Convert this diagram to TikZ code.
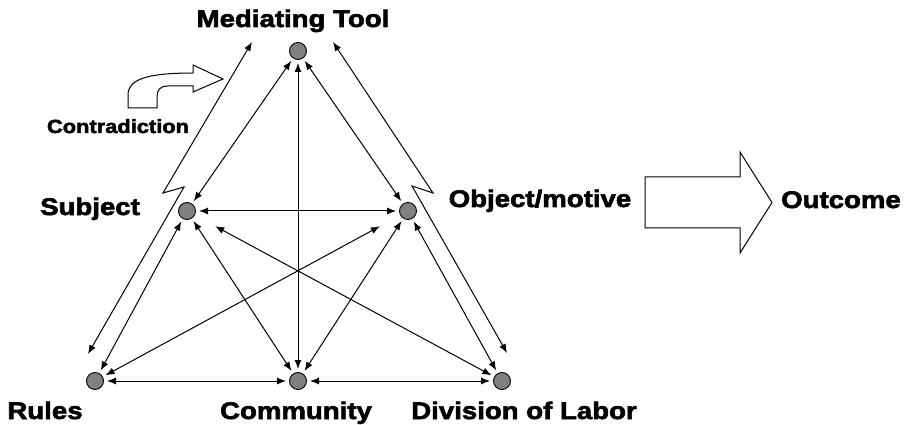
\documentclass[tikz,border=0pt]{standalone}
\usepackage{fontspec}
\setmainfont{Liberation Sans}
\newfontfamily\labelfont[FakeStretch=1.15,FakeBold=2.5]{Liberation Sans Bold}
\usetikzlibrary{arrows.meta}
\definecolor{dotgray}{RGB}{128,128,128}
\begin{document}
\begin{tikzpicture}[x=1pt,y=-1pt,
  vertex/.style={circle, draw=black, line width=0.9pt, fill=dotgray,
    minimum size=17pt, inner sep=0pt, outer sep=3.5pt},
  link/.style={line width=1pt, line join=miter,
    {Latex[length=9pt,width=7pt]}-{Latex[length=9pt,width=7pt]}},
  lbl/.style={font=\labelfont\fontsize{24}{26}\selectfont, anchor=base, inner sep=0pt},
  smalllbl/.style={font=\labelfont\fontsize{19}{21}\selectfont, anchor=base, inner sep=0pt},
  blockarrow/.style={draw=black, line width=1pt, fill=white, line join=miter}
]
\useasboundingbox (0,0) rectangle (906,425);

% activity system vertices
\node[vertex] (M) at (298,51) {};
\node[vertex] (S) at (187,211) {};
\node[vertex] (O) at (408,211) {};
\node[vertex] (R) at (95,381) {};
\node[vertex] (C) at (298,381) {};
\node[vertex] (D) at (502,381) {};

% mutual relations between the vertices
\draw[link] (M) -- (S);
\draw[link] (M) -- (O);
\draw[link] (M) -- (C);
\draw[link] (S) -- (O);
\draw[link] (S) -- (R);
\draw[link] (S) -- (C);
\draw[link, shorten <=20pt] (S) -- (D);
\draw[link] (O) -- (C);
\draw[link, shorten <=20pt] (O) -- (R);
\draw[link] (O) -- (D);
\draw[link] (R) -- (C);
\draw[link] (C) -- (D);

% contradiction zigzags along the two outer sides
\coordinate (lb) at (88,354);
\coordinate (lk1) at (184,187);
\coordinate (lk2) at (163,193);
\coordinate (lt) at (252,42);
\draw[link] (lb) -- (lk1) -- (lk2) -- (lt);

\coordinate (rb) at (507,353);
\coordinate (rk1) at (412,186);
\coordinate (rk2) at (433,193);
\coordinate (rt) at (333,42);
\draw[link] (rt) -- (rk2) -- (rk1) -- (rb);

% bent block arrow over the contradiction label
\draw[blockarrow] (128,108) -- (128,95) .. controls (128,80) and (145,73) .. (193,73)
  -- (193,65) -- (223,79) -- (193,92) -- (193,86) -- (168,86)
  .. controls (160,86) and (157,90) .. (157,97) -- (157,108) -- cycle;

% block arrow towards the outcome
\draw[blockarrow] (645,177) -- (740,177) -- (740,152) -- (772,202.5)
  -- (740,253) -- (740,228) -- (645,228) -- cycle;

% labels
\node[lbl] (mt) at (293,27) {Mediating Tool};
\node[lbl] (sj) at (90,215) {Subject};
\node[lbl] (om) at (540,207) {Object/motive};
\node[lbl] (oc) at (841,208) {Outcome};
\node[lbl] (ru) at (45,419) {Rules};
\node[lbl] (cm) at (296,419) {Community};
\node[lbl] (dl) at (524,419) {Division of Labor};
\node[smalllbl] (ct) at (118,133) {Contradiction};
\end{tikzpicture}
\end{document}
